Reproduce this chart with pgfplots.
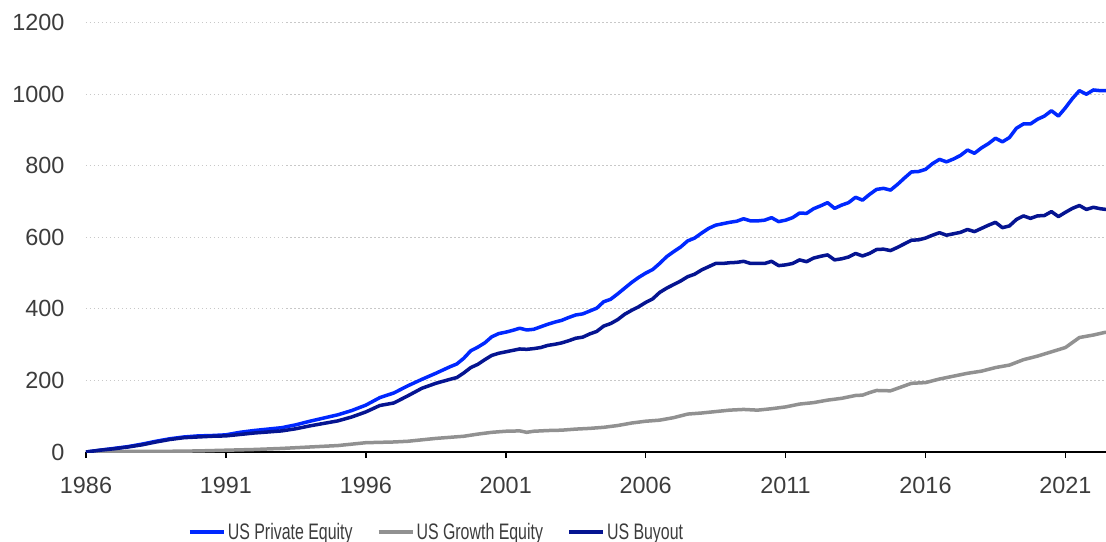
\documentclass[border=0pt]{standalone}
\usepackage{fontspec}
\setmainfont{Liberation Sans}
\newfontfamily\legfont[FakeStretch=0.71]{Liberation Sans}
\usepackage{pgfplots}
\pgfplotsset{compat=1.18}
\definecolor{pe}{RGB}{0,40,255}
\definecolor{bo}{RGB}{5,20,145}
\definecolor{ge}{RGB}{145,145,145}
\definecolor{lab}{RGB}{60,60,60}
\definecolor{grd}{RGB}{200,200,200}
\begin{document}
\begin{tikzpicture}
\begin{axis}[
  scale only axis, width=1020bp, height=429.3bp,
  xmin=1986, xmax=2022.45, ymin=0, ymax=1200,
  separate axis lines,
  axis x line*=bottom, axis y line*=left,
  x axis line style={black, line width=1.6bp, -},
  y axis line style={draw=none},
  xtick={1986,1991,...,2021}, ytick={0,200,...,1200},
  tick align=outside, major tick length=6bp,
  xtick style={black, line width=1.6bp},
  ytick style={draw=none},
  ymajorgrids, grid style={grd, line width=1bp, dash pattern=on 1.5bp off 2.5bp},
  /pgf/number format/assume math mode=true,
  /pgf/number format/1000 sep={},
  tick label style={font=\fontsize{23.5}{27}\selectfont, text=lab},
  xticklabel style={yshift=-16bp},
  yticklabel style={xshift=-12bp},
  legend style={at={(rel axis cs:0.3436,-0.1863)}, anchor=center, draw=none, fill=none,
    font=\legfont\fontsize{22.5}{26}\selectfont, text=lab, legend columns=3,
    /tikz/every even column/.append style={column sep=22bp}},
  legend image code/.code={\draw[#1, line width=4bp] (0bp,0bp) -- (34bp,0bp);},
  every axis plot/.append style={line width=3.5bp, line join=round},
]
\addplot[pe] coordinates {
(1986.0,0) (1986.5,5) (1987.0,10) (1987.5,15) (1988.0,22) (1988.5,30) (1989.0,37) (1989.5,42)
(1990.0,45) (1990.5,46) (1991.0,48) (1991.5,55) (1992.0,60) (1992.5,64) (1993.0,68) (1993.5,76)
(1994.0,86) (1994.5,95) (1995.0,104) (1995.5,116) (1996.0,131) (1996.5,152) (1997.0,165) (1997.5,185)
(1998.0,203) (1998.5,220) (1999.0,238) (1999.25,246) (1999.5,262) (1999.75,283) (2000.0,293)
(2000.25,305) (2000.5,322) (2000.75,331) (2001.0,335) (2001.25,340) (2001.5,346) (2001.75,341)
(2002.0,343) (2002.25,350) (2002.5,357) (2002.75,363) (2003.0,368) (2003.25,376) (2003.5,383)
(2003.75,386) (2004.0,394) (2004.25,402) (2004.5,420) (2004.75,427) (2005.0,442) (2005.25,458)
(2005.5,474) (2005.75,488) (2006.0,500) (2006.25,510) (2006.5,527) (2006.75,546) (2007.0,560)
(2007.25,573) (2007.5,590) (2007.75,598) (2008.0,612) (2008.25,625) (2008.5,634) (2008.75,638)
(2009.0,642) (2009.25,645) (2009.5,652) (2009.75,646) (2010.0,646) (2010.25,648) (2010.5,655)
(2010.75,644) (2011.0,648) (2011.25,655) (2011.5,668) (2011.75,667) (2012.0,680) (2012.25,688)
(2012.5,697) (2012.75,681) (2013.0,690) (2013.25,697) (2013.5,712) (2013.75,704) (2014.0,720)
(2014.25,734) (2014.5,737) (2014.75,732) (2015.0,748) (2015.25,766) (2015.5,783) (2015.75,784)
(2016.0,790) (2016.25,806) (2016.5,818) (2016.75,811) (2017.0,819) (2017.25,829) (2017.5,844)
(2017.75,835) (2018.0,850) (2018.25,862) (2018.5,877) (2018.75,867) (2019.0,879) (2019.25,905)
(2019.5,917) (2019.75,917) (2020.0,930) (2020.25,939) (2020.5,954) (2020.75,939) (2021.0,962)
(2021.25,988) (2021.5,1010) (2021.75,1000) (2022.0,1012) (2022.25,1010) (2022.45,1010)
};
\addlegendentry{US Private Equity}
\addplot[ge] coordinates {
(1986.0,0) (1987.0,1) (1988.0,2) (1989.0,2) (1990.0,3) (1991.0,5) (1992.0,7) (1993.0,10)
(1993.5,12) (1994.0,14) (1994.5,16) (1995.0,18) (1995.5,22) (1996.0,26) (1996.5,27) (1997.0,28)
(1997.5,30) (1998.0,34) (1998.5,38) (1999.0,41) (1999.5,44) (2000.0,50) (2000.5,55) (2001.0,58)
(2001.5,59) (2001.75,55) (2002.0,58) (2002.5,60) (2003.0,61) (2003.5,64) (2004.0,66) (2004.5,69)
(2005.0,74) (2005.5,81) (2006.0,86) (2006.5,89) (2007.0,96) (2007.5,106) (2008.0,109) (2008.5,113)
(2009.0,117) (2009.5,119) (2010.0,117) (2010.5,121) (2011.0,126) (2011.5,134) (2012.0,138)
(2012.5,145) (2013.0,150) (2013.5,158) (2013.75,159) (2014.0,166) (2014.25,172) (2014.75,171)
(2015.0,178) (2015.5,192) (2016.0,194) (2016.5,204) (2017.0,212) (2017.5,220) (2018.0,226)
(2018.5,236) (2019.0,243) (2019.5,258) (2020.0,268) (2020.5,280) (2021.0,292) (2021.5,320)
(2022.0,327) (2022.45,335)
};
\addlegendentry{US Growth Equity}
\addplot[bo] coordinates {
(1986.0,0) (1986.5,5) (1987.0,9) (1987.5,14) (1988.0,20) (1988.5,28) (1989.0,35) (1989.5,40)
(1990.0,42) (1990.5,44) (1991.0,45) (1991.5,49) (1992.0,53) (1992.5,56) (1993.0,59) (1993.5,65)
(1994.0,73) (1994.5,80) (1995.0,87) (1995.5,98) (1996.0,112) (1996.5,130) (1997.0,137) (1997.5,157)
(1998.0,178) (1998.5,192) (1999.0,203) (1999.25,208) (1999.5,221) (1999.75,236) (2000.0,245)
(2000.25,258) (2000.5,270) (2000.75,276) (2001.0,280) (2001.25,284) (2001.5,288) (2001.75,287)
(2002.0,289) (2002.25,292) (2002.5,298) (2002.75,301) (2003.0,305) (2003.25,311) (2003.5,318)
(2003.75,321) (2004.0,330) (2004.25,337) (2004.5,352) (2004.75,359) (2005.0,370) (2005.25,385)
(2005.5,396) (2005.75,406) (2006.0,418) (2006.25,428) (2006.5,446) (2006.75,458) (2007.0,468)
(2007.25,478) (2007.5,490) (2007.75,497) (2008.0,509) (2008.25,518) (2008.5,527) (2008.75,527)
(2009.0,529) (2009.25,530) (2009.5,533) (2009.75,527) (2010.0,527) (2010.25,527) (2010.5,533)
(2010.75,521) (2011.0,523) (2011.25,527) (2011.5,537) (2011.75,532) (2012.0,542) (2012.25,547)
(2012.5,551) (2012.75,537) (2013.0,540) (2013.25,545) (2013.5,555) (2013.75,548) (2014.0,555)
(2014.25,566) (2014.5,567) (2014.75,563) (2015.0,572) (2015.25,582) (2015.5,592) (2015.75,593)
(2016.0,598) (2016.25,606) (2016.5,613) (2016.75,606) (2017.0,610) (2017.25,614) (2017.5,622)
(2017.75,616) (2018.0,625) (2018.25,634) (2018.5,642) (2018.75,627) (2019.0,632) (2019.25,650)
(2019.5,660) (2019.75,653) (2020.0,660) (2020.25,661) (2020.5,672) (2020.75,658) (2021.0,670)
(2021.25,681) (2021.5,689) (2021.75,678) (2022.0,684) (2022.25,680) (2022.45,678)
};
\addlegendentry{US Buyout}
\end{axis}
\pgfresetboundingbox
\path (-86bp,-90bp) rectangle (1020bp,452bp);
\end{tikzpicture}
\end{document}
